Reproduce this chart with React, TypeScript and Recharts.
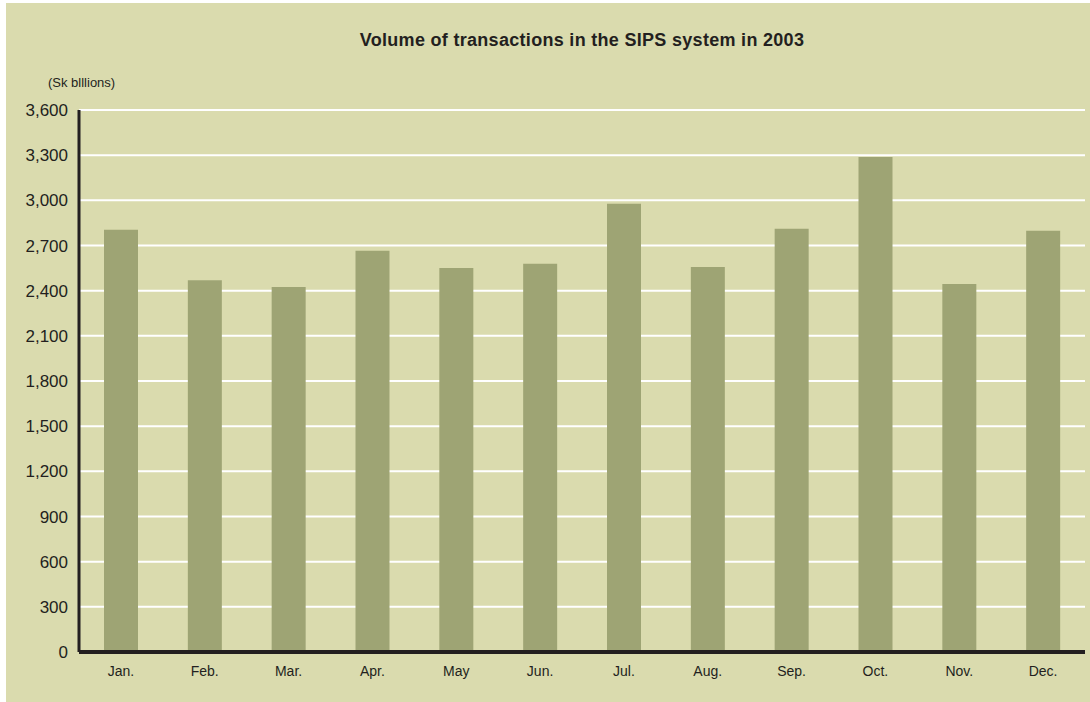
import React from 'react';
import { BarChart, CartesianGrid, XAxis, YAxis, Bar } from 'recharts';

const months = ['Jan.', 'Feb.', 'Mar.', 'Apr.', 'May', 'Jun.', 'Jul.', 'Aug.', 'Sep.', 'Oct.', 'Nov.', 'Dec.'];
const volumes = [2805, 2470, 2425, 2665, 2550, 2578, 2978, 2558, 2811, 3287, 2445, 2798];
const yTicks = [0, 300, 600, 900, 1200, 1500, 1800, 2100, 2400, 2700, 3000, 3300, 3600];

const title = 'Volume of transactions in the SIPS system in 2003';
const unitLabel = '(Sk blllions)';

const font = '"Liberation Sans", Arial, Helvetica, sans-serif';
const ink = '#231f20';

export default function App() {
  const data = months.map((month, i) => ({ month, value: volumes[i] }));

  return (
    <div style={{ position: 'absolute', left: 0, top: 0, width: 1090, height: 702, background: '#ffffff' }}>
      <div style={{ position: 'absolute', left: 6, top: 3, width: 1084, height: 699, background: '#dadbae' }}>
        <div
          style={{
            position: 'absolute',
            left: 73,
            width: 1006,
            top: 27,
            textAlign: 'center',
            fontFamily: font,
            fontWeight: 900,
            fontSize: 18,
            letterSpacing: 0.3,
            color: ink,
          }}
        >
          {title}
        </div>
        <div
          style={{
            position: 'absolute',
            left: 42,
            top: 72,
            fontFamily: font,
            fontSize: 13,
            color: ink,
          }}
        >
          {unitLabel}
        </div>
        <BarChart
          width={1084}
          height={699}
          data={data}
          margin={{ top: 107, right: 5, left: 0, bottom: 20 }}
          barCategoryGap="30%"
        >
          <CartesianGrid vertical={false} stroke="#ffffff" strokeWidth={2} />
          <XAxis
            dataKey="month"
            height={30}
            tickLine={false}
            axisLine={{ stroke: ink, strokeWidth: 4 }}
            tickMargin={8}
            tick={{ fill: ink, fontSize: 14, fontFamily: font }}
          />
          <YAxis
            width={73}
            domain={[0, 3600]}
            ticks={yTicks}
            interval={0}
            tickLine={false}
            axisLine={{ stroke: ink, strokeWidth: 3 }}
            tickMargin={5}
            tickFormatter={(v: number) => v.toLocaleString('en-US')}
            tick={{ fill: ink, fontSize: 17, fontFamily: font }}
          />
          <Bar dataKey="value" fill="#9ea474" barSize={34} isAnimationActive={false} />
        </BarChart>
      </div>
    </div>
  );
}
